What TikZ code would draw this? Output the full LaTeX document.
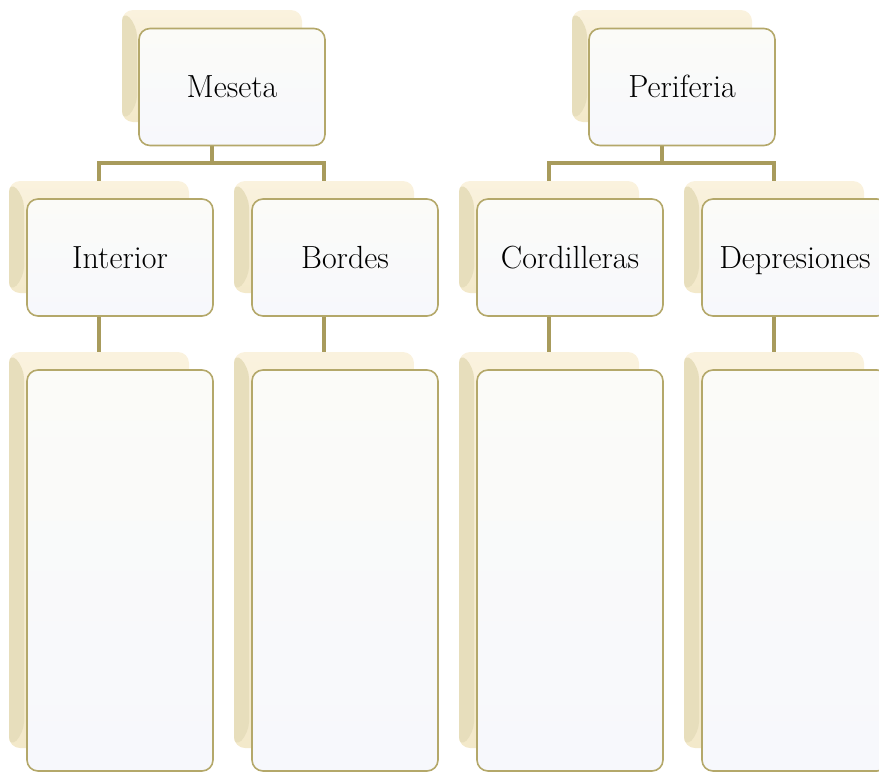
\documentclass[tikz,border=0pt]{standalone}
\usepackage{fontspec}
\setmainfont{Latin Modern Roman}
\usepackage{xcolor}
\usetikzlibrary{positioning}

\definecolor{linkolive}{RGB}{168,155,92}
\definecolor{edgeolive}{RGB}{180,168,106}
\definecolor{creamtop}{RGB}{250,242,222}
\definecolor{creambot}{RGB}{243,233,202}
\definecolor{creamside}{RGB}{231,222,188}
\definecolor{cardtop}{RGB}{251,251,248}
\definecolor{cardbot}{RGB}{247,248,252}

\begin{document}
\begin{tikzpicture}[x=1pt, y=-1pt,
  backbox/.style={rectangle, rounded corners=11pt, inner sep=0pt,
    minimum width=180pt, minimum height=112pt,
    top color=creamtop, bottom color=creambot,
    path picture={\fill[creamside] (path picture bounding box.north west)
      -- ++(15pt,-15pt) -- ([shift={(15pt,15pt)}]path picture bounding box.south west)
      -- (path picture bounding box.south west) -- cycle;}},
  frontbox/.style={rectangle, rounded corners=11pt, draw=edgeolive, line width=1.6pt,
    top color=cardtop, bottom color=cardbot, inner sep=0pt,
    minimum width=186pt, minimum height=117pt, text height=21.5pt, text depth=0pt,
    font=\fontsize{32}{38}\selectfont},
  tallback/.style={backbox, minimum height=396pt},
  tallfront/.style={frontbox, minimum height=401pt},
  link/.style={draw=linkolive, line width=4pt}
]
\useasboundingbox (0,0) rectangle (879,772);

% back cards
\node[backbox] (meseta-b) at (212,66) {};
\node[backbox] (periferia-b) at (662,66) {};
\node[backbox] (interior-b) at (99,237) {};
\node[backbox] (bordes-b) at (324,237) {};
\node[backbox] (cordilleras-b) at (549,237) {};
\node[backbox] (depresiones-b) at (774,237) {};
\node[tallback] (interior-lb) at (99,550) {};
\node[tallback] (bordes-lb) at (324,550) {};
\node[tallback] (cordilleras-lb) at (549,550) {};
\node[tallback] (depresiones-lb) at (774,550) {};

% connectors
\draw[link] (meseta-b.south) -- ++(0,41) coordinate (meseta-j) -| (interior-b.north);
\draw[link] (meseta-j) -| (bordes-b.north);
\draw[link] (periferia-b.south) -- ++(0,41) coordinate (periferia-j) -| (cordilleras-b.north);
\draw[link] (periferia-j) -| (depresiones-b.north);
\draw[link] (interior-b.south) -- (interior-lb.north);
\draw[link] (bordes-b.south) -- (bordes-lb.north);
\draw[link] (cordilleras-b.south) -- (cordilleras-lb.north);
\draw[link] (depresiones-b.south) -- (depresiones-lb.north);

% front cards
\node[frontbox] (meseta) at (232,87) {Meseta};
\node[frontbox] (periferia) at (682,87) {Periferia};
\node[frontbox] (interior) at (120,257.5) {Interior};
\node[frontbox] (bordes) at (345,257.5) {Bordes};
\node[frontbox] (cordilleras) at (570,257.5) {Cordilleras};
\node[frontbox] (depresiones) at (795,257.5) {Depresiones};
\node[tallfront] (interior-l) at (120,570.5) {};
\node[tallfront] (bordes-l) at (345,570.5) {};
\node[tallfront] (cordilleras-l) at (570,570.5) {};
\node[tallfront] (depresiones-l) at (795,570.5) {};
\end{tikzpicture}
\end{document}
